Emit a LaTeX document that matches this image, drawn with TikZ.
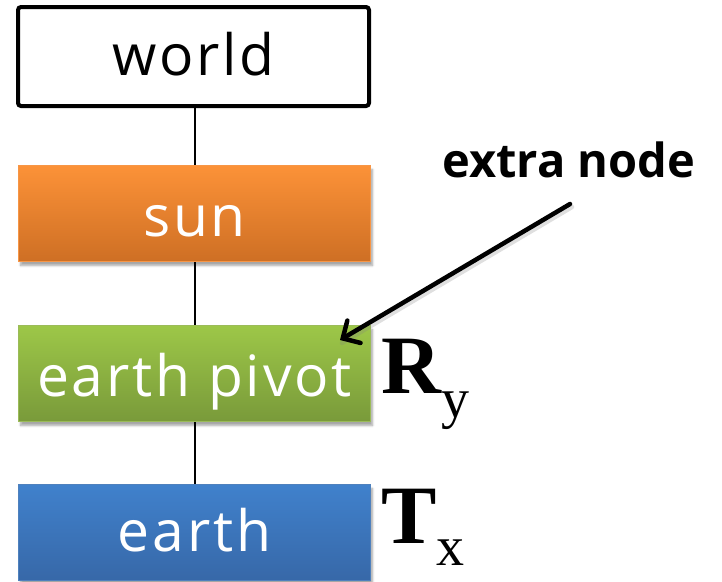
\documentclass[tikz,border=0pt]{standalone}
\usepackage{fontspec}
\setmainfont{Open Sans}
\newfontfamily\timesf{Liberation Serif}
\usetikzlibrary{shadows.blur,arrows.meta,backgrounds}
\definecolor{suntop}{RGB}{252,146,56}
\definecolor{sunbot}{RGB}{206,111,36}
\definecolor{sunedge}{RGB}{247,150,70}
\definecolor{grntop}{RGB}{157,199,72}
\definecolor{grnbot}{RGB}{121,154,58}
\definecolor{grnedge}{RGB}{155,187,89}
\definecolor{blutop}{RGB}{64,129,204}
\definecolor{blubot}{RGB}{55,104,168}
\definecolor{bluedge}{RGB}{79,129,189}
\tikzset{
  boxtext/.style={font=\fontsize{57}{60}\selectfont\addfontfeature{LetterSpace=5}},
  colbox/.style={boxtext, text=white, minimum width=352pt, minimum height=96pt, inner sep=0pt,
    line width=1pt, blur shadow={shadow xshift=2pt, shadow yshift=-4pt, shadow blur steps=6, shadow opacity=35}},
  linkline/.style={line width=2pt, black},
  mathlbl/.style={inner sep=0pt, anchor=base west},
}
\begin{document}
\begin{tikzpicture}[x=1pt,y=-1pt]
\useasboundingbox (0,0) rectangle (722,581);
\node[boxtext, draw=black, line width=4pt, rounded corners=3pt, fill=white,
      minimum width=351pt, minimum height=99pt, inner sep=0pt, text height=37pt, text depth=0pt]
      (world) at (193.5,56.5) {world};
\node[colbox, top color=suntop, bottom color=sunbot, draw=sunedge, text height=46pt, text depth=0pt]
      (sun) at (194.5,213.5) {sun};
\node[colbox, top color=grntop, bottom color=grnbot, draw=grnedge, text height=46pt, text depth=0pt]
      (pivot) at (194.5,373.5) {earth pivot};
\node[colbox, top color=blutop, bottom color=blubot, draw=bluedge, text height=37pt, text depth=0pt]
      (earth) at (194.5,532.5) {earth};
\begin{scope}[on background layer]
  \draw[linkline] (world.south -| 194.5,0) -- (earth.north -| 194.5,0);
\end{scope}
\node[font=\fontsize{47}{50}\selectfont\bfseries, inner sep=0pt, anchor=base]
      (extra) at (569,177) {extra node};
\coordinate (astart) at (570,204);
\coordinate (atip) at (340,340);
\draw[line width=4.5pt, gray, opacity=0.25, line cap=round] ([shift={(2,3)}]astart) -- ([shift={(2,3)}]atip);
\draw[line width=4.5pt, line cap=round, -{Straight Barb[length=13pt,width=26pt,line cap=round]}] (astart) -- (atip);
\node[mathlbl, font=\timesf] (ry) at (381,393)
  {\fontsize{83}{83}\selectfont\bfseries R\raisebox{-24pt}{\fontsize{56}{56}\selectfont\mdseries y}};
\node[mathlbl, font=\timesf] (tx) at (381,543)
  {\fontsize{83}{83}\selectfont\bfseries T\raisebox{-22pt}{\fontsize{56}{56}\selectfont\mdseries x}};
\end{tikzpicture}
\end{document}
